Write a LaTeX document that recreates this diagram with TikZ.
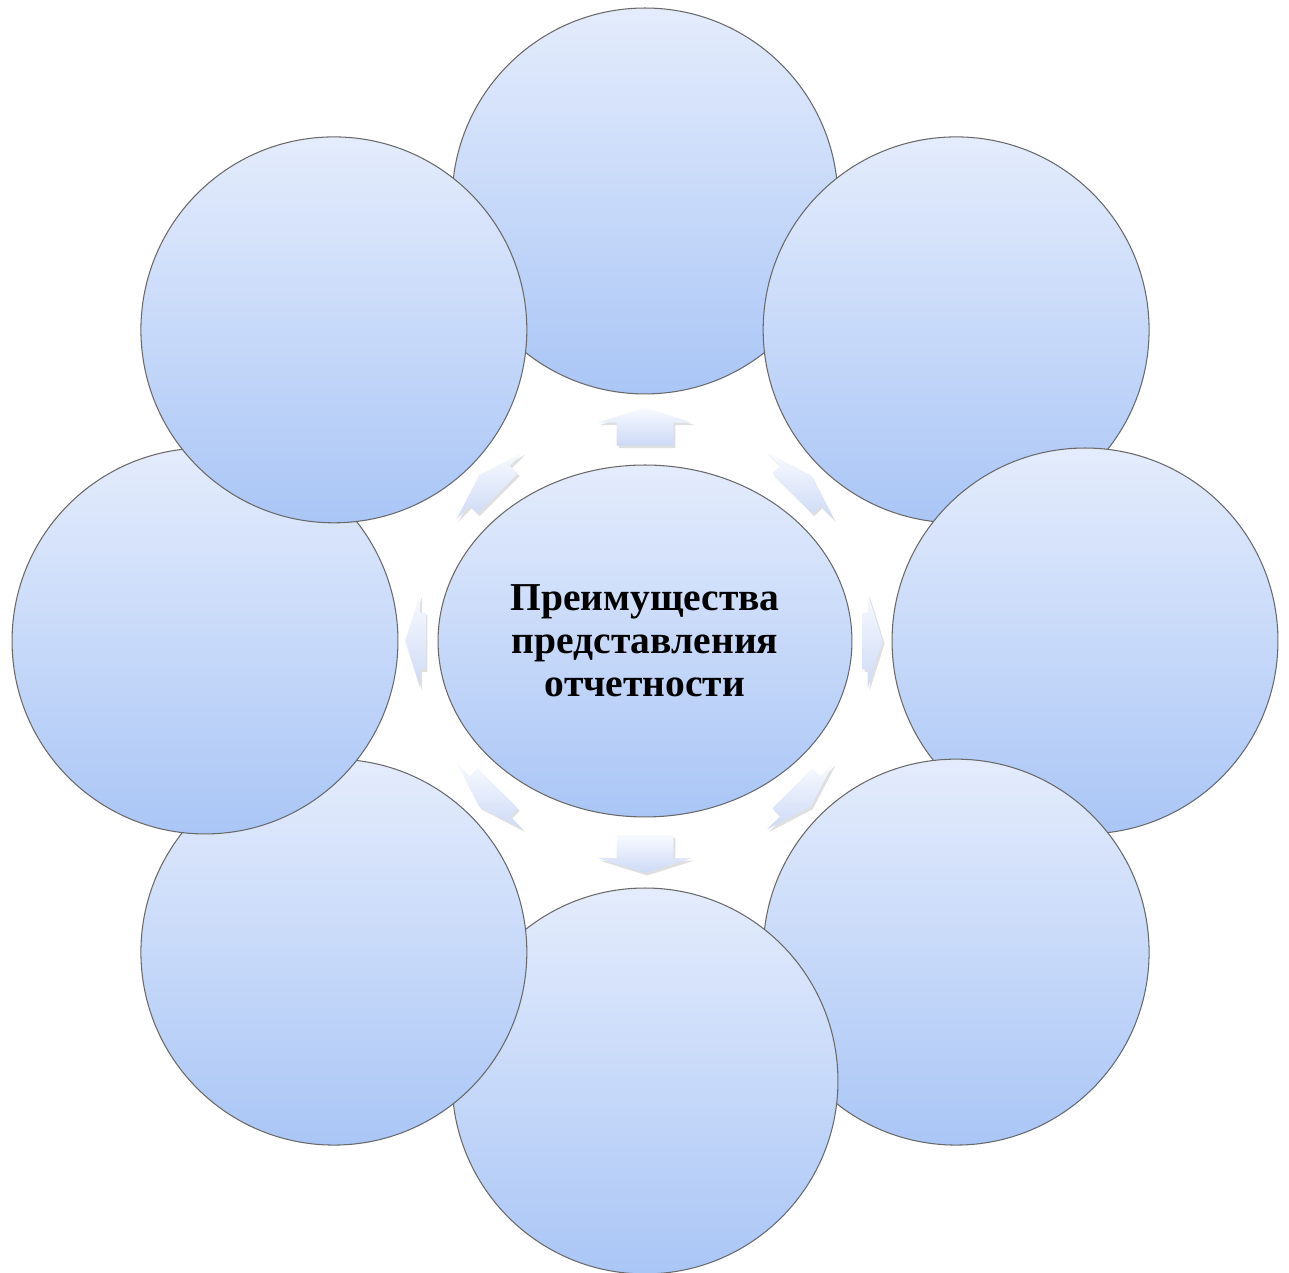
\documentclass[tikz,border=0pt]{standalone}
\usepackage{fontspec}
\setmainfont{Liberation Serif}
\usetikzlibrary{shapes.geometric,shapes.arrows,shadows,calc}

\definecolor{bubbletop}{RGB}{228,236,252}
\definecolor{bubblebot}{RGB}{170,198,246}
\definecolor{rimgray}{RGB}{105,105,105}
\definecolor{arrowtop}{RGB}{248,250,255}
\definecolor{arrowbot}{RGB}{205,218,246}

\tikzset{
	bubble/.style={circle, draw=rimgray, line width=0.6pt, inner sep=0pt,
		minimum size=7.72cm, top color=bubbletop, bottom color=bubblebot},
	hub/.style={ellipse, draw=rimgray, line width=0.6pt, inner sep=0pt,
		minimum width=8.28cm, minimum height=7.04cm,
		top color=bubbletop, bottom color=bubblebot, align=center,
		font=\bfseries\fontsize{22.5}{24.5}\selectfont},
	blockarrow/.style={single arrow, draw=none, inner xsep=0pt, inner ysep=0.56cm,
		single arrow head extend=0.38cm, single arrow tip angle=145,
		minimum width=1.88cm, top color=arrowtop, bottom color=arrowbot,
		drop shadow={shadow xshift=0.04cm, shadow yshift=-0.05cm, opacity=0.25}}
}

\begin{document}
\begin{tikzpicture}[x=0.02cm, y=0.02cm]
	\useasboundingbox (0,0) rectangle (1289,1273);
	% centre
	\node[hub] (hub) at (645,632) {Преимущества\\представления\\отчетности};
	% outer circles, clockwise from the top
	\foreach \a [count=\i] in {90,45,0,-45,-90,-135,180,135} {
		\node[bubble] (c\i) at ($(hub.center)+(\a:440)$) {};
	}
	% block arrows from the centre outwards
	\foreach \a/\len/\d [count=\i] in {90/0.76/0.477, 45/0.52/0.493, 0/0.40/0.507, -45/0.52/0.493,
		-90/0.76/0.474, -135/0.52/0.493, 180/0.40/0.512, 135/0.52/0.493} {
		\node[blockarrow, rotate=\a, minimum height=\len cm] (a\i) at ($(hub.center)!\d!(c\i)$) {};
	}
\end{tikzpicture}
\end{document}
